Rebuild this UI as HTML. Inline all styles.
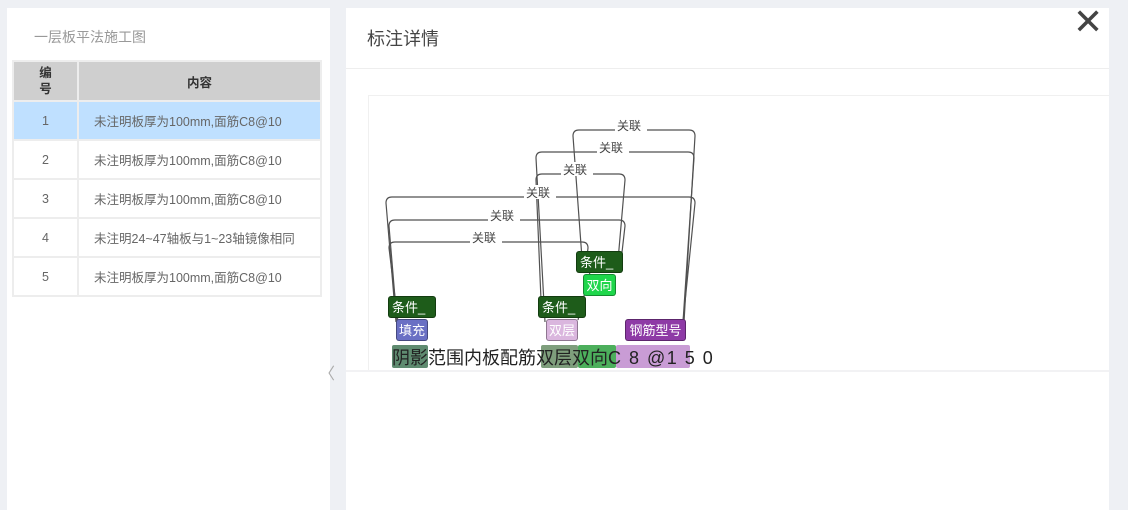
<!DOCTYPE html>
<html><head><meta charset="utf-8"><style>
*{margin:0;padding:0;box-sizing:border-box}
body{width:1128px;height:510px;background:#eef0f4;position:relative;overflow:hidden;font-family:"Liberation Sans","Noto Sans CJK SC",sans-serif}
.abs{position:absolute}
.lp{left:7px;top:8px;width:323px;height:502px;background:#fff}
.rp{left:346px;top:8px;width:763px;height:502px;background:#fff}
table{border-collapse:collapse;position:absolute;left:12px;top:60px;width:310px;font-size:12.5px;color:#666}
td,th{border:2px solid #ededed;text-align:center}
th{background:#cfcfcf;color:#333;font-size:12.5px;font-weight:bold}
td.c{text-align:left;padding-left:15px}
tr.r td{height:39px}
.lab{position:absolute;height:22px;border-radius:3px;color:#fff;font-size:13px;line-height:22px;text-align:center;border:1px solid rgba(0,0,0,.35)}
.hl{position:absolute;top:345px;height:23px;border-radius:2px}
</style></head><body>
<div class="abs lp"></div>
<div class="abs" style="left:34px;top:27px;font-size:14px;color:#999">一层板平法施工图</div>
<table>
<tr style="height:40px"><th style="width:65px;line-height:16px">编<br>号</th><th>内容</th></tr>
<tr class="r" style="background:#bfe0ff"><td>1</td><td class="c">未注明板厚为100mm,面筋C8@10</td></tr>
<tr class="r"><td>2</td><td class="c">未注明板厚为100mm,面筋C8@10</td></tr>
<tr class="r"><td>3</td><td class="c">未注明板厚为100mm,面筋C8@10</td></tr>
<tr class="r"><td>4</td><td class="c">未注明24~47轴板与1~23轴镜像相同</td></tr>
<tr class="r"><td>5</td><td class="c">未注明板厚为100mm,面筋C8@10</td></tr>
</table>
<div class="abs" style="left:319px;top:360px;color:#aaa;font-size:16px">〈</div>
<div class="abs rp"></div>
<div class="abs" style="left:346px;top:68px;width:763px;height:1px;background:#eee"></div>
<div class="abs" style="left:367px;top:25px;font-size:18px;color:#444">标注详情</div>
<div class="abs" style="left:1073px;top:2px;font-size:36px;color:#444;font-family:'DejaVu Sans',sans-serif">✕</div>
<div class="abs" style="left:368px;top:95px;width:741px;height:276px;border:1px solid #f0f0f0;border-right:none"></div>
<div class="abs" style="left:346px;top:370px;width:763px;height:2px;background:#f2f2f4"></div>

<svg class="abs" style="left:0;top:0" width="1128" height="510">
<g fill="none" stroke="#333" stroke-width="1.2" opacity=".85">
<path d="M398 322 L389 248 Q389 242 395 242 L582 242 Q588 242 588 248 L586 265"/>
<path d="M397 322 L389 226 Q389 220 395 220 L619 220 Q625 220 625 226 L620 270"/>
<path d="M396 322 L386 203 Q386 197 392 197 L689 197 Q695 197 695 203 L683 322"/>
<path d="M541 300 L536 180 Q536 174 542 174 L619 174 Q625 174 625 180 L617 272"/>
<path d="M545 322 L536 158 Q536 152 542 152 L688 152 Q694 152 694 158 L683 322"/>
<path d="M583 272 L573 136 Q573 130 579 130 L689 130 Q695 130 695 136 L684 322"/>
<path d="M578 320 L590 272"/>
</g>
<g font-size="12" fill="#444" font-family="Liberation Sans,Noto Sans CJK SC,sans-serif">
<rect x="470" y="230" width="32" height="14" fill="#fff"/><text x="472" y="242">关联</text>
<rect x="488" y="208" width="32" height="14" fill="#fff"/><text x="490" y="220">关联</text>
<rect x="524" y="185" width="32" height="14" fill="#fff"/><text x="526" y="197">关联</text>
<rect x="561" y="162" width="32" height="14" fill="#fff"/><text x="563" y="174">关联</text>
<rect x="597" y="140" width="32" height="14" fill="#fff"/><text x="599" y="152">关联</text>
<rect x="615" y="118" width="32" height="14" fill="#fff"/><text x="617" y="130">关联</text>
</g>
</svg>

<div class="lab" style="left:576px;top:251px;width:47px;background:#1e5c1a;text-align:left;padding-left:3px">条件_</div>
<div class="lab" style="left:583px;top:274px;width:33px;background:#1fd64b">双向</div>
<div class="lab" style="left:388px;top:296px;width:48px;background:#1e5c1a;text-align:left;padding-left:3px">条件_</div>
<div class="lab" style="left:538px;top:296px;width:48px;background:#1e5c1a;text-align:left;padding-left:3px">条件_</div>
<div class="lab" style="left:396px;top:319px;width:32px;background:#6a70c4">填充</div>
<div class="lab" style="left:546px;top:319px;width:32px;background:#dab6de">双层</div>
<div class="lab" style="left:625px;top:319px;width:61px;background:#8e3aa6">钢筋型号</div>

<div class="hl" style="left:392px;width:36px;background:#5f8b70"></div>
<div class="hl" style="left:541px;width:37px;background:#7e9e7c"></div>
<div class="hl" style="left:578px;width:38px;background:#4caf5c"></div>
<div class="hl" style="left:616px;width:74px;background:#c99cd5"></div>
<div class="abs" style="left:392px;top:344px;font-size:18px;color:#222;white-space:nowrap">阴影范围内板配筋双层双向<span style="letter-spacing:1.5px">C 8 @1 5 0</span></div>
</body></html>
